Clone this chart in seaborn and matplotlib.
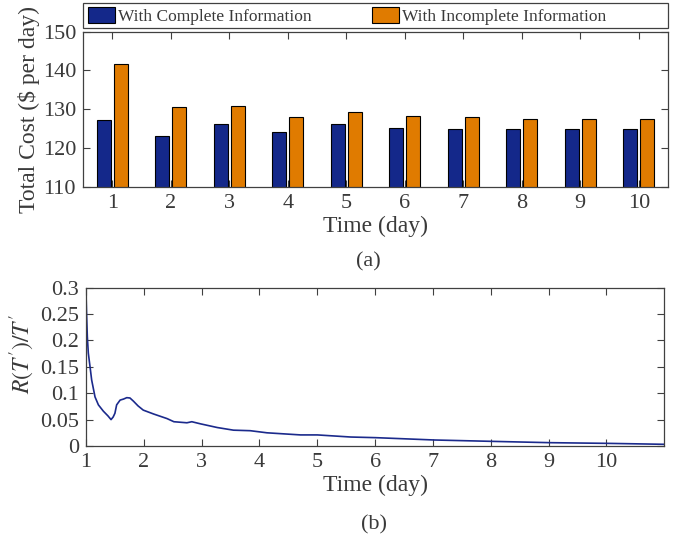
import numpy as np
import pandas as pd
import matplotlib
matplotlib.use("Agg")
import matplotlib.pyplot as plt
from matplotlib.patches import Patch, Rectangle
from matplotlib.ticker import FuncFormatter
import seaborn as sns

# Daily total cost (bars, panel a)
days = [1, 2, 3, 4, 5, 6, 7, 8, 9, 10]
cost_complete = [127.2, 123.1, 126.1, 124.0, 126.1, 125.1, 125.0, 125.0, 125.0, 125.0]
cost_incomplete = [141.6, 130.5, 130.7, 128.0, 129.2, 128.2, 127.9, 127.6, 127.6, 127.6]
series_names = ["With Complete Information", "With Incomplete Information"]

# Regret ratio R(T')/T' (line, panel b)
t_days = [1.0, 1.0, 1.01, 1.023, 1.04, 1.07, 1.098, 1.156, 1.214, 1.30, 1.38, 1.433,
          1.47, 1.50, 1.53, 1.59, 1.65, 1.705, 1.76, 1.82, 1.90, 1.99, 2.17, 2.40,
          2.52, 2.745, 2.83, 2.98, 3.27, 3.55, 3.84, 4.13, 4.42, 4.71, 5.0, 5.29,
          5.58, 6.01, 7.02, 8.02, 9.02, 10.02, 11.0]
ratio = [0.13, 0.29, 0.25, 0.207, 0.176, 0.15, 0.125, 0.093, 0.078, 0.066, 0.057, 0.050,
         0.055, 0.062, 0.078, 0.087, 0.089, 0.0916, 0.091, 0.085, 0.076, 0.068, 0.0606, 0.052,
         0.046, 0.044, 0.046, 0.042, 0.035, 0.030, 0.029, 0.025, 0.023, 0.021, 0.021, 0.019,
         0.017, 0.0158, 0.0114, 0.0088, 0.0063, 0.005, 0.0032]

blue = "#14288A"
orange = "#E07B00"
txt = "#3a3a3a"

sns.set_theme(style="ticks")
plt.rcParams["font.family"] = ["Liberation Serif", "DejaVu Serif"]
plt.rcParams["mathtext.fontset"] = "stix"
plt.rcParams["text.color"] = txt
plt.rcParams["axes.labelcolor"] = txt
plt.rcParams["xtick.color"] = "#404040"
plt.rcParams["ytick.color"] = "#404040"
plt.rcParams["xtick.labelcolor"] = txt
plt.rcParams["ytick.labelcolor"] = txt

df = pd.DataFrame({
    "day": days * 2,
    "cost": cost_complete + cost_incomplete,
    "series": [series_names[0]] * len(days) + [series_names[1]] * len(days),
})

fig = plt.figure(figsize=(6.83, 5.37), dpi=100)
ax1 = fig.add_axes([83 / 683, 1 - 186.7 / 537, 585 / 683, 155 / 537])
ax2 = fig.add_axes([86 / 683, 1 - 446 / 537, 578.3 / 683, 158.3 / 537])

# panel (a)
sns.barplot(data=df, x="day", y="cost", hue="series", ax=ax1,
            palette={series_names[0]: blue, series_names[1]: orange},
            width=0.58, gap=0.2, saturation=1, edgecolor="black", linewidth=0.8,
            legend=False)
ax1.set_ylim(110, 150)
ax1.set_xlim(-0.5, 9.5)
ax1.set_yticks([110, 120, 130, 140, 150])
ax1.set_xlabel("Time (day)", fontsize=17, labelpad=2)
ax1.set_ylabel("Total Cost ($ per day)", fontsize=17, labelpad=2)
fig.text(368.5 / 683, 1 - 262 / 537, "(a)", ha="center", va="center", fontsize=16, color=txt)

# panel (b)
sns.lineplot(x=t_days, y=ratio, ax=ax2, estimator=None, sort=False, color="#1B2A8C", linewidth=1.2)
ax2.set_xlim(1, 11)
ax2.set_ylim(0, 0.3)
ax2.set_xticks(range(1, 11))
ax2.set_yticks([0, 0.05, 0.1, 0.15, 0.2, 0.25, 0.3])
ax2.yaxis.set_major_formatter(FuncFormatter(lambda v, p: f"{v:g}"))
ax2.set_xlabel("Time (day)", fontsize=17, labelpad=2)
ax2.set_ylabel(r"$R(T')/T'$", fontsize=17)
ax2.yaxis.set_label_coords(-0.085, 0.58)
fig.text(373.7 / 683, 1 - 525 / 537, "(b)", ha="center", va="center", fontsize=16, color=txt)

for ax in (ax1, ax2):
    ax.tick_params(direction="in", length=4.8, width=0.8, labelsize=16,
                   top=True, right=True, pad=5)
    for s in ax.spines.values():
        s.set_color("#404040")
        s.set_linewidth(0.9)
        s.set_visible(True)

# legend across the top
handles = [Patch(facecolor=blue, edgecolor="black", linewidth=0.8),
           Patch(facecolor=orange, edgecolor="black", linewidth=0.8)]
fig.legend(handles, series_names, loc="center left",
           bbox_to_anchor=(88 / 683, 1 - 16 / 537), ncol=2, frameon=False,
           fontsize=12.5, handlelength=1.55, handleheight=0.98, handletextpad=0.2,
           columnspacing=3.45, borderpad=0, borderaxespad=0)
fig.add_artist(Rectangle((83 / 683, 1 - 27.7 / 537), 585 / 683, 25 / 537,
                         transform=fig.transFigure, fill=False,
                         edgecolor="#404040", linewidth=0.9))

fig.savefig("out.png", dpi=100)
